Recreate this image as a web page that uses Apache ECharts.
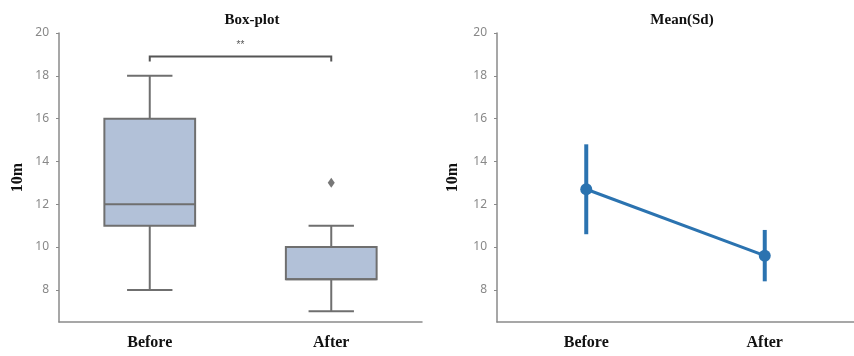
<!DOCTYPE html>
<html>
<head>
<meta charset="utf-8">
<script src="https://cdn.jsdelivr.net/npm/echarts@6/dist/echarts.min.js"></script>
<style>
  html, body { margin: 0; padding: 0; background: #fff; }
  #chart { width: 854px; height: 356px; }
</style>
</head>
<body>
<div id="chart"></div>
<script>
// 数据
const categories = ['Before', 'After'];
const boxMin = [8, 7];
const boxQ1 = [11, 8.5];
const boxMedian = [12, 8.5];
const boxQ3 = [16, 10];
const boxMax = [18, 11];
const outliers = [[1, 13]];
const meanValues = [12.7, 9.6];
const sdLow = [10.6, 8.4];
const sdHigh = [14.8, 10.8];
const yTicks = [8, 10, 12, 14, 16, 18, 20];
const bracket = [0, 1, 18.9];
const sigLabel = '**';

const chart = echarts.init(document.getElementById('chart'));

const serif = 'Liberation Serif';
const axisGray = '#8a8a8a';
const boxBorder = '#6f6f6f';
const blue = '#2b73b0';

const yAxisBase = (idx, gap) => ({
  type: 'value',
  gridIndex: idx,
  min: 6.5,
  max: 20,
  name: '10m',
  nameLocation: 'middle',
  nameRotate: 90,
  nameGap: gap,
  nameTextStyle: { fontFamily: serif, fontWeight: 'bold', fontSize: 16, color: '#111' },
  axisLine: { show: true, lineStyle: { color: axisGray, width: 1.5 } },
  axisTick: { show: true, length: 3, customValues: yTicks, lineStyle: { color: axisGray } },
  axisLabel: { customValues: yTicks, color: '#888', fontSize: 12, fontFamily: 'Noto Sans', margin: 10 },
  splitLine: { show: false }
});

const xAxisBase = (idx) => ({
  type: 'category',
  gridIndex: idx,
  data: categories,
  axisLine: { lineStyle: { color: axisGray, width: 1.5 } },
  axisTick: { alignWithLabel: true, length: 3, lineStyle: { color: axisGray } },
  axisLabel: { fontFamily: serif, fontWeight: 'bold', fontSize: 16, color: '#111', margin: 13 }
});

const boxData = categories.map((c, i) => [i, boxMin[i], boxQ1[i], boxMedian[i], boxQ3[i], boxMax[i]]);

const option = {
  animation: false,
  title: [
    { text: 'Box-plot', left: 247, top: 8, textAlign: 'center',
      textStyle: { fontFamily: serif, fontWeight: 'bold', fontSize: 15, color: '#111' } },
    { text: 'Mean(Sd)', left: 677, top: 8, textAlign: 'center',
      textStyle: { fontFamily: serif, fontWeight: 'bold', fontSize: 15, color: '#111' } }
  ],
  grid: [
    { left: 59, right: 432, top: 33, bottom: 34 },
    { left: 497, right: -7, top: 33, bottom: 34 }
  ],
  xAxis: [xAxisBase(0), xAxisBase(1)],
  yAxis: [yAxisBase(0, 33), yAxisBase(1, 36)],
  series: [
    {
      type: 'custom',
      xAxisIndex: 0, yAxisIndex: 0,
      data: boxData,
      renderItem: (params, api) => {
        const x = api.value(0);
        const bw = api.size([1, 0])[0] * 0.5;
        const cw = api.size([1, 0])[0] * 0.25;
        const pMin = api.coord([x, api.value(1)]);
        const pQ1 = api.coord([x, api.value(2)]);
        const pMed = api.coord([x, api.value(3)]);
        const pQ3 = api.coord([x, api.value(4)]);
        const pMax = api.coord([x, api.value(5)]);
        const cx = pQ1[0];
        const st = { stroke: boxBorder, lineWidth: 2, fill: null };
        return {
          type: 'group',
          children: [
            { type: 'line', shape: { x1: cx, y1: pMax[1], x2: cx, y2: pQ3[1] }, style: st },
            { type: 'line', shape: { x1: cx, y1: pQ1[1], x2: cx, y2: pMin[1] }, style: st },
            { type: 'line', shape: { x1: cx - cw / 2, y1: pMax[1], x2: cx + cw / 2, y2: pMax[1] }, style: st },
            { type: 'line', shape: { x1: cx - cw / 2, y1: pMin[1], x2: cx + cw / 2, y2: pMin[1] }, style: st },
            { type: 'rect', shape: { x: cx - bw / 2, y: pQ3[1], width: bw, height: pQ1[1] - pQ3[1] },
              style: { fill: '#b2c1d8', stroke: boxBorder, lineWidth: 2 } },
            { type: 'line', shape: { x1: cx - bw / 2, y1: pMed[1], x2: cx + bw / 2, y2: pMed[1] }, style: st }
          ]
        };
      }
    },
    {
      type: 'scatter',
      xAxisIndex: 0, yAxisIndex: 0,
      data: outliers,
      symbol: 'diamond',
      symbolSize: [7, 10],
      itemStyle: { color: '#555' }
    },
    {
      type: 'custom',
      xAxisIndex: 0, yAxisIndex: 0,
      data: [bracket],
      renderItem: (params, api) => {
        const a = api.coord([api.value(0), api.value(2)]);
        const b = api.coord([api.value(1), api.value(2)]);
        return {
          type: 'group',
          children: [
            { type: 'polyline', shape: { points: [[a[0], a[1] + 5], [a[0], a[1]], [b[0], b[1]], [b[0], b[1] + 5]] },
              style: { stroke: '#555', lineWidth: 2, fill: null } },
            { type: 'text', x: (a[0] + b[0]) / 2, y: a[1] - 6,
              style: { text: sigLabel, fill: '#555', fontSize: 10, align: 'center', verticalAlign: 'bottom' } }
          ]
        };
      }
    },
    {
      type: 'custom',
      xAxisIndex: 1, yAxisIndex: 1,
      data: categories.map((c, i) => [i, sdLow[i], sdHigh[i]]),
      renderItem: (params, api) => {
        const lo = api.coord([api.value(0), api.value(1)]);
        const hi = api.coord([api.value(0), api.value(2)]);
        return { type: 'line', shape: { x1: lo[0], y1: lo[1], x2: hi[0], y2: hi[1] },
          style: { stroke: blue, lineWidth: 4 } };
      }
    },
    {
      type: 'line',
      xAxisIndex: 1, yAxisIndex: 1,
      data: meanValues,
      symbol: 'circle',
      symbolSize: 12,
      lineStyle: { color: blue, width: 3 },
      itemStyle: { color: blue }
    }
  ]
};

chart.setOption(option);
</script>
</body>
</html>
